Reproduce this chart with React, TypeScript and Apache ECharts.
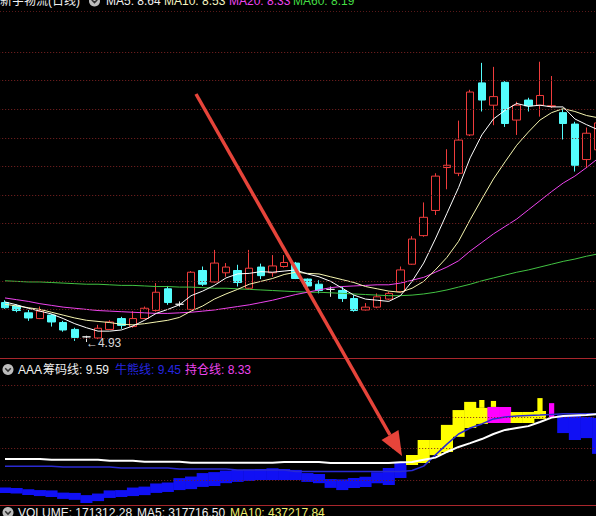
import { useEffect, useRef } from "react";
import * as echarts from "echarts";

// ---- daily bars ----
const days = Array.from({ length: 52 }, (_, i) => `D${i + 1}`);

const opens = [
  5.62, 5.56, 5.44, 5.34, 5.4, 5.27, 5.15, 5.02, 5.0, 5.15,
  5.34, 5.2, 5.34, 5.48, 5.86, 5.59, 5.5, 6.18, 5.98, 6.14,
  6.18, 5.87, 6.24, 6.14, 6.25, 6.31, 6.03, 5.94, 5.85, 5.83,
  5.69, 5.49, 5.54, 5.68, 5.81, 6.29, 6.79, 7.23, 7.98, 7.88,
  8.55, 9.46, 9.07, 9.47, 8.81, 9.16, 9.07, 9.05, 8.94, 8.74,
  8.12, 8.29,
];
const closes = [
  5.53, 5.48, 5.35, 5.47, 5.28, 5.14, 5.01, 5.02, 5.17, 5.28,
  5.22, 5.34, 5.52, 5.8, 5.62, 5.59, 6.15, 5.94, 6.31, 6.24,
  5.97, 6.22, 6.09, 6.26, 6.32, 6.04, 5.91, 5.83, 5.85, 5.69,
  5.48, 5.54, 5.72, 5.78, 6.19, 6.73, 7.11, 7.83, 8.02, 8.46,
  9.3, 9.16, 9.22, 8.75, 9.07, 9.06, 9.24, 9.06, 8.75, 8.02,
  8.58, 8.76,
];
const lows = [
  5.51, 5.45, 5.3, 5.33, 5.2, 5.11, 4.95, 4.93, 4.98, 5.14,
  5.16, 5.18, 5.33, 5.46, 5.58, 5.55, 5.49, 5.91, 5.97, 6.07,
  5.9, 5.86, 6.03, 6.07, 6.23, 6.03, 5.89, 5.78, 5.72, 5.63,
  5.46, 5.48, 5.52, 5.66, 5.8, 6.28, 6.77, 7.15, 7.6, 7.83,
  8.53, 8.96, 8.72, 8.69, 8.55, 8.96, 8.87, 9.02, 8.47, 7.91,
  7.97, 8.25,
];
const highs = [
  5.66, 5.59, 5.49, 5.55, 5.42, 5.3, 5.18, 5.04, 5.23, 5.31,
  5.37, 5.47, 5.55, 5.96, 5.91, 5.64, 6.17, 6.25, 6.54, 6.31,
  6.28, 6.54, 6.3, 6.45, 6.45, 6.33, 6.04, 6.01, 5.9, 5.9,
  5.75, 5.61, 5.78, 5.81, 6.25, 6.78, 7.37, 7.88, 8.3, 8.8,
  9.34, 9.81, 9.74, 9.49, 9.13, 9.2, 9.83, 9.58, 9.0, 8.78,
  8.68, 8.85,
];

// ---- moving averages ----
const ma5 = [
  5.63, 5.58, 5.52, 5.47, 5.42, 5.34, 5.25, 5.18, 5.12, 5.12,
  5.14, 5.21, 5.31, 5.43, 5.5, 5.58, 5.74, 5.82, 5.92, 6.05,
  6.12, 6.13, 6.16, 6.15, 6.17, 6.19, 6.12, 6.07, 5.99, 5.87,
  5.75, 5.68, 5.66, 5.64, 5.74, 5.99, 6.31, 6.73, 7.18, 7.63,
  8.15, 8.55, 8.83, 8.98, 9.1, 9.05, 9.07, 9.04, 9.04, 8.83,
  8.73, 8.64,
];
const ma10 = [
  5.59, 5.56, 5.53, 5.5, 5.45, 5.4, 5.35, 5.31, 5.29, 5.27,
  5.24, 5.23, 5.25, 5.28, 5.31, 5.36, 5.47, 5.56, 5.68, 5.77,
  5.85, 5.94, 5.99, 6.04, 6.11, 6.15, 6.13, 6.12, 6.07, 6.02,
  5.97, 5.9, 5.86, 5.82, 5.8, 5.87, 5.99, 6.19, 6.41, 6.69,
  7.07, 7.43, 7.78, 8.08, 8.37, 8.6, 8.81, 8.94, 9.01, 8.96,
  8.89, 8.85,
];
const ma20 = [
  5.7, 5.67, 5.64, 5.6, 5.57, 5.54, 5.52, 5.5, 5.48, 5.47,
  5.46, 5.45, 5.44, 5.43, 5.43, 5.44, 5.45, 5.47, 5.49, 5.52,
  5.55, 5.58, 5.62, 5.66, 5.71, 5.76, 5.8, 5.84, 5.88, 5.9,
  5.91, 5.92, 5.93, 5.93, 5.96, 6.01, 6.06, 6.15, 6.24, 6.35,
  6.52, 6.67, 6.82, 6.95, 7.08, 7.24, 7.4, 7.56, 7.71, 7.83,
  7.98, 8.14,
];
const ma60 = [
  6.0, 5.99, 5.98, 5.98, 5.97, 5.96, 5.95, 5.94, 5.94, 5.93,
  5.92, 5.92, 5.91, 5.9, 5.9, 5.89, 5.89, 5.88, 5.87, 5.87,
  5.86, 5.85, 5.84, 5.83, 5.82, 5.81, 5.8, 5.8, 5.79, 5.78,
  5.77, 5.76, 5.75, 5.74, 5.74, 5.75, 5.77, 5.8, 5.84, 5.89,
  5.94, 6.0, 6.05, 6.1, 6.15, 6.19, 6.24, 6.29, 6.34, 6.38,
  6.43, 6.47,
];

const priceLevels = [5, 5.5, 6, 6.5, 7, 7.5, 8, 8.5, 9, 9.5, 10];

// ---- AAA indicator ----
const chipLine = [
  8.17, 8.17, 8.17, 8.17, 8.14, 8.14, 8.14, 8.14, 8.14, 8.11,
  8.11, 8.11, 8.08, 8.08, 8.08, 8.08, 8.05, 8.05, 8.05, 8.05,
  8.05, 8.05, 8.05, 8.05, 8.07, 8.07, 8.07, 8.07, 8.04, 8.04,
  8.04, 8.04, 8.04, 8.04, 8.06, 8.07, 8.14, 8.21, 8.39, 8.55,
  8.67, 8.8, 8.96, 9.09, 9.15, 9.21, 9.34, 9.48, 9.53, 9.55,
  9.56, 9.59,
];
const bullBear = [
  7.94, 7.94, 7.94, 7.94, 7.94, 7.91, 7.91, 7.91, 7.91, 7.91,
  7.88, 7.88, 7.88, 7.88, 7.88, 7.85, 7.85, 7.85, 7.85, 7.85,
  7.82, 7.82, 7.82, 7.82, 7.82, 7.77, 7.77, 7.77, 7.77, 7.77,
  7.77, 7.77, 7.77, 7.77, 7.77, 7.8, 7.94, 8.29, 8.64, 8.96,
  9.15, 9.28, 9.44, 9.5, 9.53, 9.55, 9.56, 9.58, 9.6, 9.6,
  9.6, 9.6,
];
const bandLow = [
  7.09, 7.07, 7.02, 6.99, 6.96, 6.9, 6.87, 6.77, 6.83, 6.93,
  6.96, 6.99, 7.02, 7.09, 7.12, 7.18, 7.21, 7.28, 7.31, 7.4,
  7.44, 7.47, 7.5, 7.5, 7.5, 7.5, 7.44, 7.4, 7.25, 7.18,
  7.25, 7.28, 7.4, 7.34, 7.56, 7.98, 8.04, 8.29, 8.39, 8.87,
  9.15, 9.28, 9.31, 9.31, 9.31, 9.31, 9.44, null, 8.99, 8.77,
  8.83, 8.33,
];
const bandHigh = [
  7.26, 7.25, 7.21, 7.18, 7.17, 7.1, 7.09, 7.02, 7.07, 7.17,
  7.18, 7.26, 7.29, 7.39, 7.42, 7.56, 7.61, 7.72, 7.75, 7.8,
  7.82, 7.83, 7.85, 7.87, 7.85, 7.82, 7.72, 7.69, 7.53, 7.52,
  7.56, 7.6, 7.75, 7.88, 8.07, 8.29, 8.77, 8.77, 9.25, 9.72,
  9.98, 9.79, 9.82, 9.82, 9.66, 9.66, 9.69, null, 9.56, 9.53,
  9.5, 9.47,
];
// b = blue, y = yellow, m = magenta
const bandTone = [
  "b", "b", "b", "b", "b", "b", "b", "b", "b", "b",
  "b", "b", "b", "b", "b", "b", "b", "b", "b", "b",
  "b", "b", "b", "b", "b", "b", "b", "b", "b", "b",
  "b", "b", "b", "b", "b", "y", "y", "y", "y", "y",
  "y", "y", "m", "m", "y", "y", "y", "", "b", "b",
  "b", "b",
];
// narrow sticks: [bar, low, high, tone]
const sticks: [number, number, number, string][] = [
  [41, 9.79, 10.04, "y"],
  [42, 9.82, 10.01, "y"],
  [46, 9.53, 10.1, "y"],
  [47, 9.5, 9.94, "m"],
];
const indLevels = [7.5, 8.5, 9.5, 10.5];

// ---- layout ----
const SLOT = 11.63;
const FIRST_X = 5;
const GRID_LEFT = FIRST_X - SLOT / 2;
const GRID_WIDTH = SLOT * days.length;

const PRICE_TOP = 0;
const PRICE_H = 360;
const PRICE_REF_Y = 338; // pixel row of price 5
const PRICE_PX = 57.2;
const priceMin = 5 - (PRICE_TOP + PRICE_H - PRICE_REF_Y) / PRICE_PX;
const priceMax = 5 + (PRICE_REF_Y - PRICE_TOP) / PRICE_PX;

const IND_TOP = 362;
const IND_H = 143;
const IND_REF_Y = 417; // pixel row of 9.5
const IND_PX = 31.5;
const indMin = 9.5 - (IND_TOP + IND_H - IND_REF_Y) / IND_PX;
const indMax = 9.5 + (IND_REF_Y - IND_TOP) / IND_PX;

const UP = "#f03c3c";
const DOWN = "#54fcfc";
const GRID_DOT = "#7d2323";
const toneColor: Record<string, string> = { b: "#1010f4", y: "#ffff00", m: "#ff00ff" };
const FONT = '12px "Liberation Sans", "Noto Sans CJK SC", sans-serif';

const text = (t: string, x: number, y: number, fill: string) => ({
  type: "text",
  x,
  y,
  z: 100,
  silent: true,
  style: { text: t, fill, font: FONT, align: "left", verticalAlign: "middle" },
});

const knob = (x: number, y: number) => ({
  type: "group",
  x,
  y,
  z: 100,
  children: [
    { type: "circle", z: 100, shape: { cx: 0, cy: 0, r: 5.5 }, style: { fill: "#bdbdbd" } },
    {
      type: "polyline",
      z: 101,
      shape: { points: [[-2.8, -1.2], [0, 1.6], [2.8, -1.2]] },
      style: { stroke: "#303030", lineWidth: 1.5, fill: null },
    },
  ],
});

const blockRenderer =
  (tones: string[], frac: number) => (params: any, api: any) => {
    const i = api.value(0);
    const lo = api.coord([i, api.value(1)]);
    const hi = api.coord([i, api.value(2)]);
    const w = api.size([1, 0])[0] * frac;
    return {
      type: "rect",
      shape: { x: lo[0] - w / 2, y: hi[1], width: w, height: lo[1] - hi[1] },
      style: { fill: toneColor[tones[params.dataIndex]] },
    };
  };

function buildOption() {
  const candles = days.map((_, i) => [opens[i], closes[i], lows[i], highs[i]]);
  const lowIdx = lows.indexOf(Math.min(...lows));

  const bandIdx = days.map((_, i) => i).filter((i) => bandTone[i]);
  const bandData = bandIdx.map((i) => [i, bandLow[i], bandHigh[i]]);
  const bandTones = bandIdx.map((i) => bandTone[i]);
  const stickData = sticks.map((s) => [s[0], s[1], s[2]]);
  const stickTones = sticks.map((s) => s[3]);

  const maLine = (data: number[], color: string) => ({
    type: "line",
    xAxisIndex: 0,
    yAxisIndex: 0,
    data,
    showSymbol: false,
    symbol: "none",
    silent: true,
    z: 3,
    lineStyle: { color, width: 1 },
  });

  const dotted = (levels: number[], axis: number) => ({
    type: "line",
    xAxisIndex: axis,
    yAxisIndex: axis,
    data: [],
    z: 1,
    silent: true,
    markLine: {
      silent: true,
      symbol: ["none", "none"],
      label: { show: false },
      lineStyle: { color: GRID_DOT, type: [1, 2], width: 1 },
      data: levels.map((v) => ({ yAxis: v })),
    },
  });

  const hiddenAxis = { show: false };

  return {
    animation: false,
    backgroundColor: "#000000",
    grid: [
      { left: GRID_LEFT, top: PRICE_TOP, width: GRID_WIDTH, height: PRICE_H, outerBoundsMode: "none" },
      { left: GRID_LEFT, top: IND_TOP, width: GRID_WIDTH, height: IND_H, outerBoundsMode: "none" },
    ],
    xAxis: [
      { type: "category", gridIndex: 0, data: days, boundaryGap: true, ...hiddenAxis },
      { type: "category", gridIndex: 1, data: days, boundaryGap: true, ...hiddenAxis },
    ],
    yAxis: [
      { type: "value", gridIndex: 0, min: priceMin, max: priceMax, ...hiddenAxis },
      { type: "value", gridIndex: 1, min: indMin, max: indMax, ...hiddenAxis },
    ],
    series: [
      dotted(priceLevels, 0),
      {
        type: "candlestick",
        xAxisIndex: 0,
        yAxisIndex: 0,
        data: candles,
        barWidth: 8,
        z: 2,
        itemStyle: {
          color: "#000000",
          color0: DOWN,
          borderColor: UP,
          borderColor0: DOWN,
          borderColorDoji: "#e8e8e8",
          borderWidth: 1,
        },
        markPoint: {
          symbol: "circle",
          symbolSize: 1,
          silent: true,
          itemStyle: { color: "rgba(0,0,0,0)" },
          label: {
            show: true,
            position: "right",
            distance: 0,
            offset: [-1, 1],
            color: "#d8d8d8",
            fontSize: 12,
            fontFamily: '"Liberation Sans", "DejaVu Sans", sans-serif',
            formatter: (p: any) => "\u2190" + Number(p.value).toFixed(2),
          },
          data: [{ coord: [days[lowIdx], lows[lowIdx]], value: lows[lowIdx] }],
        },
      },
      maLine(ma60, "#42c242"),
      maLine(ma20, "#ee44ee"),
      maLine(ma10, "#f6f6b0"),
      maLine(ma5, "#ffffff"),
      dotted(indLevels, 1),
      {
        type: "custom",
        xAxisIndex: 1,
        yAxisIndex: 1,
        data: bandData,
        encode: { x: 0, y: [1, 2] },
        renderItem: blockRenderer(bandTones, 1.04),
        clip: true,
        silent: true,
        z: 2,
      },
      {
        type: "custom",
        xAxisIndex: 1,
        yAxisIndex: 1,
        data: stickData,
        encode: { x: 0, y: [1, 2] },
        renderItem: blockRenderer(stickTones, 0.45),
        clip: true,
        silent: true,
        z: 2,
      },
      {
        type: "line",
        xAxisIndex: 1,
        yAxisIndex: 1,
        data: bullBear,
        showSymbol: false,
        symbol: "none",
        silent: true,
        z: 4,
        lineStyle: { color: "#2a2ad2", width: 1.5 },
      },
      {
        type: "line",
        xAxisIndex: 1,
        yAxisIndex: 1,
        data: chipLine,
        showSymbol: false,
        symbol: "none",
        silent: true,
        z: 5,
        lineStyle: { color: "#ffffff", width: 2 },
      },
    ],
    graphic: [
      {
        type: "line",
        z: 50,
        silent: true,
        shape: { x1: 0, y1: 11.5, x2: 596, y2: 11.5 },
        style: { stroke: GRID_DOT, lineWidth: 1, lineDash: [1, 2], opacity: 0.7 },
      },
      {
        type: "line",
        z: 50,
        silent: true,
        shape: { x1: 0, y1: 358.5, x2: 596, y2: 358.5 },
        style: { stroke: "#a8262c", lineWidth: 1 },
      },
      {
        type: "line",
        z: 50,
        silent: true,
        shape: { x1: 0, y1: 505.5, x2: 596, y2: 505.5 },
        style: { stroke: "#a8262c", lineWidth: 1 },
      },
      // pointer arrow
      {
        type: "line",
        z: 90,
        silent: true,
        shape: { x1: 196, y1: 94, x2: 390, y2: 435 },
        style: { stroke: "#e6443a", lineWidth: 3.5 },
      },
      {
        type: "polygon",
        z: 90,
        silent: true,
        shape: { points: [[402, 456], [398.5, 430], [381.5, 440]] },
        style: { fill: "#e6443a" },
      },
      // price panel header
      text("新宇物流(日线)", 0, 1, "#f0f0f0"),
      knob(94.5, 1),
      text("MA5: 8.64", 106, 1, "#f0f0f0"),
      text("MA10: 8.53", 164, 1, "#f4f4c0"),
      text("MA20: 8.33", 229, 1, "#ee44ee"),
      text("MA60: 8.19", 293, 1, "#44dd44"),
      // indicator header
      knob(8, 369.5),
      text("AAA", 18, 369.5, "#f0f0f0"),
      text("筹码线: 9.59", 43, 369.5, "#f0f0f0"),
      text("牛熊线: 9.45", 115, 369.5, "#2626e0"),
      text("持仓线: 8.33", 185, 369.5, "#ee44ee"),
      // volume header
      knob(8, 512.5),
      text("VOLUME: 171312.28", 18, 512.7, "#f0f0f0"),
      text("MA5: 317716.50", 137, 512.7, "#f0f0f0"),
      text("MA10: 437217.84", 230, 512.7, "#f0f070"),
    ],
  };
}

export default function App() {
  const ref = useRef<HTMLDivElement>(null);
  useEffect(() => {
    if (!ref.current) return;
    const chart = echarts.init(ref.current, undefined, { renderer: "svg" });
    chart.setOption(buildOption() as any);
    return () => chart.dispose();
  }, []);
  return (
    <div
      ref={ref}
      style={{ position: "fixed", left: 0, top: 0, width: 596, height: 516, background: "#000" }}
    />
  );
}
